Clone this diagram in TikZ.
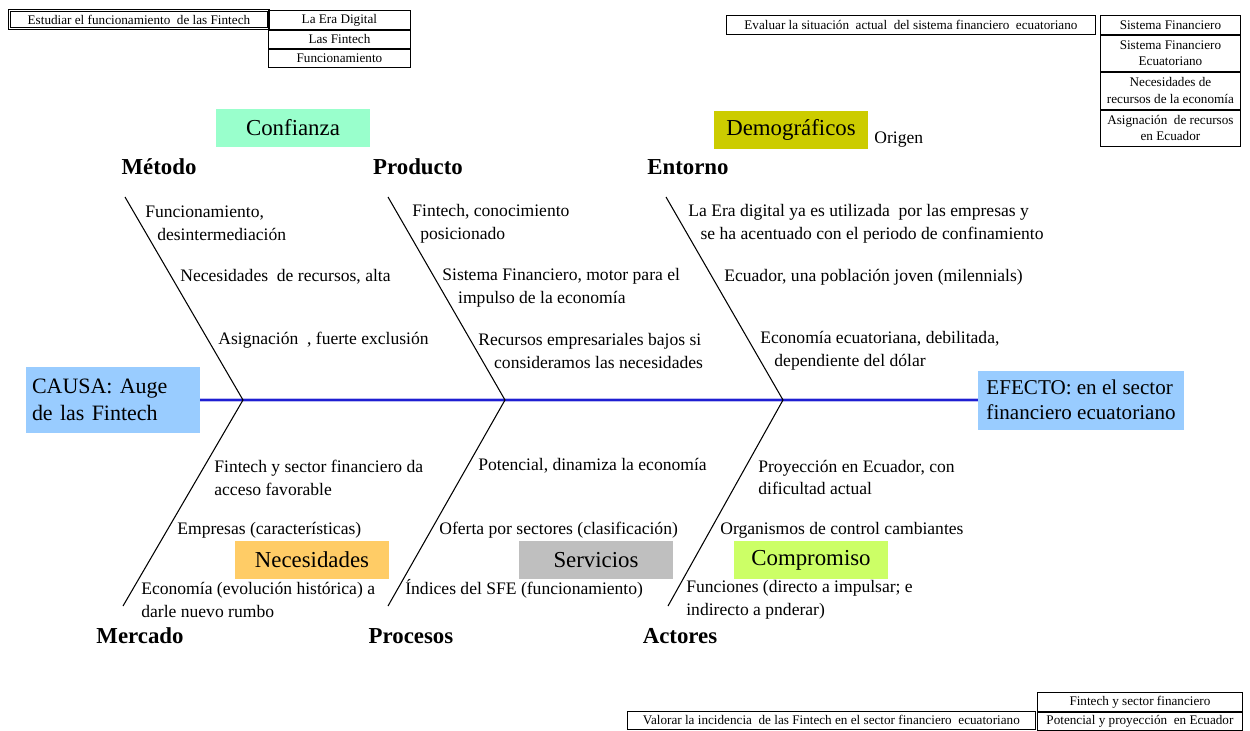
\documentclass[tikz,border=0pt]{standalone}
\usepackage{fontspec}
\setmainfont{Liberation Serif}
\usetikzlibrary{positioning}
\definecolor{causa}{RGB}{153,204,255}
\definecolor{confianza}{RGB}{153,255,204}
\definecolor{demog}{RGB}{204,204,0}
\definecolor{necesid}{RGB}{255,204,102}
\definecolor{servic}{RGB}{191,191,191}
\definecolor{comprom}{RGB}{204,255,102}
\definecolor{spine}{RGB}{30,30,210}

\begin{document}
\begin{tikzpicture}[x=0.02cm, y=-0.02cm,
  txt/.style={anchor=west, align=left, inner sep=0pt, font=\fontsize{10}{13}\selectfont},
  cat/.style={inner sep=0pt, font=\fontsize{13}{15}\selectfont\bfseries},
  tag/.style={minimum width=3.08cm, minimum height=0.76cm, inner sep=0pt, font=\fontsize{13}{15}\selectfont},
  cell/.style={draw, line width=0.5pt, anchor=north west, inner sep=0pt, align=center, font=\fontsize{7.5}{9.5}\selectfont},
  bone/.style={line width=0.6pt}]
\useasboundingbox (0,0) rectangle (1250,730);

\node[cell, double, minimum width=5.18cm, minimum height=0.36cm] (obj1) at (9,10) {Estudiar el funcionamiento \ de las Fintech};
\node[cell, minimum width=2.84cm, minimum height=0.38cm] (t1) at (268,10) {La Era Digital};
\node[cell, minimum width=2.84cm, minimum height=0.36cm] (t2) at (t1.south west) {Las Fintech};
\node[cell, minimum width=2.84cm, minimum height=0.36cm] (t3) at (t2.south west) {Funcionamiento};

\node[cell, minimum width=7.38cm, minimum height=0.38cm] (obj2) at (726,15) {Evaluar la situación \ actual \ del sistema financiero \ ecuatoriano};
\node[cell, minimum width=2.8cm, minimum height=0.38cm] (s1) at (1100,15) {Sistema Financiero};
\node[cell, minimum width=2.8cm, minimum height=0.72cm] (s2) at (s1.south west) {Sistema Financiero\\Ecuatoriano};
\node[cell, minimum width=2.8cm, minimum height=0.74cm] (s3) at (s2.south west) {Necesidades de\\recursos de la economía};
\node[cell, minimum width=2.8cm, minimum height=0.72cm] (s4) at (s3.south west) {Asignación \ de recursos\\en Ecuador};

\node[cell, minimum width=8.16cm, minimum height=0.36cm] (obj3) at (627,711) {Valorar la incidencia \ de las Fintech en el sector financiero \ ecuatoriano};
\node[cell, minimum width=4.1cm, minimum height=0.38cm] (v1) at (1037,692) {Fintech y sector financiero};
\node[cell, minimum width=4.1cm, minimum height=0.36cm] (v2) at (v1.south west) {Potencial y proyección \ en Ecuador};

\node[fill=causa, minimum width=3.48cm, minimum height=1.32cm, text width=3.24cm, inner xsep=0.12cm, align=left, font=\fontsize{12.5}{15}\selectfont] (causa) at (113,400) {CAUSA: Auge\\de las Fintech};
\node[fill=causa, minimum width=4.12cm, minimum height=1.18cm, align=left, font=\fontsize{12}{14.5}\selectfont] (efecto) at (1081,400) {EFECTO: en el sector\\financiero ecuatoriano};
\draw[spine!30, line width=2.8pt] (causa) -- (efecto);
\draw[spine, line width=1.4pt] (causa) -- (efecto);

\coordinate (j1) at (243,400);
\coordinate (j2) at (505,400);
\coordinate (j3) at (783,400);
\coordinate (u1) at (125,197);
\coordinate (u2) at (388,197);
\coordinate (u3) at (666,197);
\coordinate (d1) at (123,606);
\coordinate (d2) at (388,606);
\coordinate (d3) at (668,606);
\draw[bone] (u1) -- (j1) -- (d1);
\draw[bone] (u2) -- (j2) -- (d2);
\draw[bone] (u3) -- (j3) -- (d3);

\node[cat] (metodo) at (159,167) {Método};
\node[cat] (producto) at (418,167) {Producto};
\node[cat] (entorno) at (688,167) {Entorno};
\node[cat] (mercado) at (140,636) {Mercado};
\node[cat] (procesos) at (411,636) {Procesos};
\node[cat] (actores) at (680,636) {Actores};

\node[tag, fill=confianza] (confianza) at (293,128) {Confianza};
\node[tag, fill=demog] (demograficos) at (791,130) {Demográficos};
\node[txt] (origen) at (874,140) {Origen};
\node[tag, fill=necesid] (necesidades) at (312,560) {Necesidades};
\node[tag, fill=servic] (servicios) at (596,560) {Servicios};
\node[tag, fill=comprom] (compromiso) at (811,560) {Compromiso};

\node[txt] (m1) at (145,223.5) {Funcionamiento,\\\hspace*{6.8pt}desintermediación};
\node[txt] (m2) at (180,277) {Necesidades \ de recursos, alta};
\node[txt] (m3) at (218,340) {Asignación \ , fuerte exclusión};

\node[txt] (p1) at (412,223.5) {Fintech, conocimiento\\\hspace*{4.5pt}posicionado};
\node[txt] (p2) at (442,288) {Sistema Financiero, motor para el\\\hspace*{9pt}impulso de la economía};
\node[txt] (p3) at (478,351) {Recursos empresariales bajos si\\\hspace*{9pt}consideramos las necesidades};

\node[txt] (e1) at (688,223.5) {La Era digital ya es utilizada \ por las empresas y\\\hspace*{7pt}se ha acentuado con el periodo de confinamiento};
\node[txt] (e2) at (724,277) {Ecuador, una población joven (milennials)};
\node[txt] (e3) at (760,351) {Economía ecuatoriana, debilitada,\\\hspace*{8pt}dependiente del dólar};

\node[txt] (k1) at (214,477.5) {Fintech y sector financiero da\\acceso favorable};
\node[txt] (k2) at (177,530) {Empresas (características)};
\node[txt] (k3) at (141,600) {Economía (evolución histórica) a\\darle nuevo rumbo};

\node[txt] (r1) at (478,466) {Potencial, dinamiza la economía};
\node[txt] (r2) at (439,530) {Oferta por sectores (clasificación)};
\node[txt] (r3) at (405,589) {Índices del SFE (funcionamiento)};

\node[txt] (a1) at (758,477.5) {Proyección en Ecuador, con\\dificultad actual};
\node[txt] (a2) at (720,530) {Organismos de control cambiantes};
\node[txt] (a3) at (686,600) {Funciones (directo a impulsar; e\\indirecto a pnderar)};
\end{tikzpicture}
\end{document}
